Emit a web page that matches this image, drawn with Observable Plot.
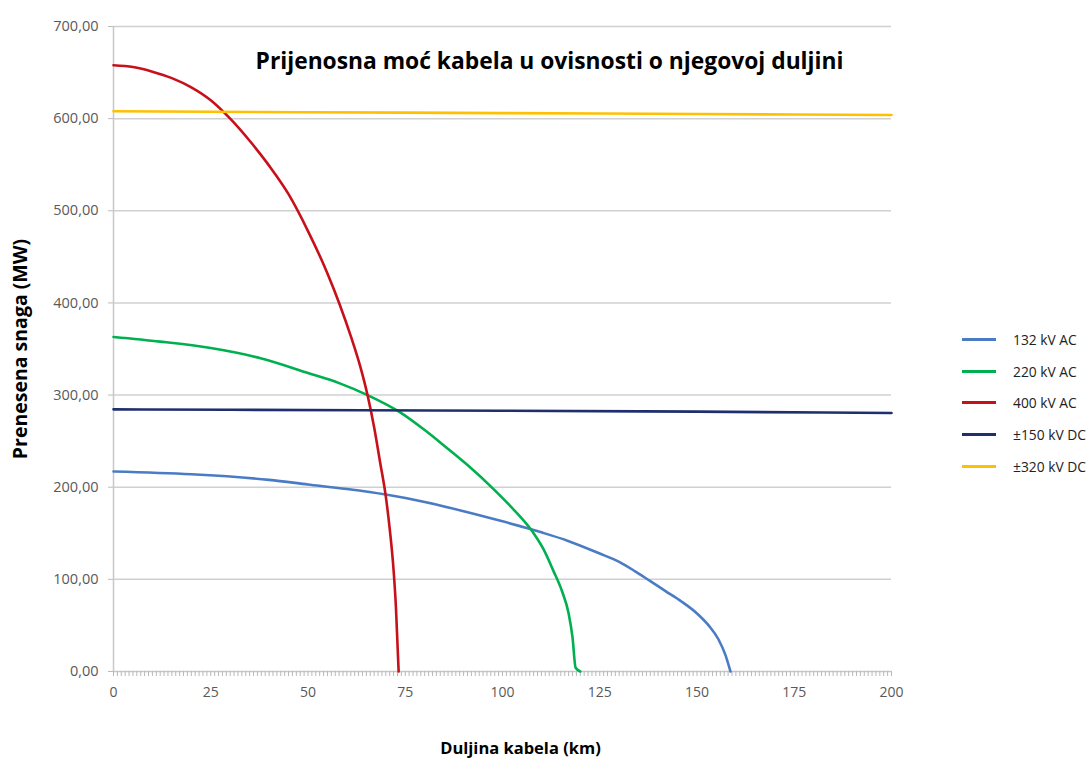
<!DOCTYPE html>
<html>
<head>
<meta charset="utf-8">
<script src="https://cdn.jsdelivr.net/npm/d3@7"></script>
<script src="https://cdn.jsdelivr.net/npm/@observablehq/plot@0.6"></script>
<style>
  body { margin: 0; background: #fff; font-family: "Open Sans", sans-serif; }
  #wrap { position: relative; width: 1088px; height: 759px; }
  #title { position: absolute; left: 0; width: 1099px; top: 45px; text-align: center; font-weight: bold; font-size: 22.8px; color: #000; }
  #legend { position: absolute; left: 962px; top: 324px; font-size: 13.8px; color: #222; }
  .item { display: flex; align-items: center; height: 31.6px; }
  .sw { width: 34px; height: 3px; margin-right: 17px; }
</style>
</head>
<body>
<div id="wrap">
  <div id="chart"></div>
  <div id="title">Prijenosna moć kabela u ovisnosti o njegovoj duljini</div>
  <div id="legend"></div>
</div>
<script>
const seriesNames = ["132 kV AC", "220 kV AC", "400 kV AC", "±150 kV DC", "±320 kV DC"];
const seriesColors = ["#4a7cc6", "#00b050", "#c8101a", "#1f2f6e", "#ffc000"];

const km132 = [0, 20, 40, 50, 60, 70, 80, 90, 100, 106, 110, 116.7, 125, 130, 134, 138, 142, 146, 150, 153, 155.5, 157.3, 158.6];
const mw132 = [217, 214, 208, 203, 198, 192, 184, 174, 163, 156, 151, 142, 128, 119, 109, 98, 87, 76, 63, 50, 35, 18, 0];

const km220 = [0, 12, 25, 37.8, 50, 58, 65.3, 73.8, 80, 85, 91, 97.7, 102.8, 108, 110.5, 113, 115.4, 117, 118, 118.8, 120];
const mw220 = [363, 358, 351, 340, 324, 313, 300, 281, 262, 245, 224, 198, 176, 150, 133, 110, 86, 63, 37, 4, 0];

const km400 = [0, 5, 10, 15, 20, 25, 30, 35, 40, 45, 50, 55, 58, 61, 63.5, 65.3, 67, 68.5, 70, 71, 72, 72.6, 73, 73.3];
const mw400 = [658, 656, 651, 644, 634, 620, 600, 576, 549, 518, 478, 432, 400, 364, 330, 300, 265, 228, 190, 155, 110, 70, 30, 0];

const km150 = [0, 30, 100, 150, 200];
const mw150 = [284.5, 284, 283, 282, 280.5];

const km320 = [0, 50, 100, 150, 200];
const mw320 = [608, 607, 606, 605, 604];

const yTicks = [0, 100, 200, 300, 400, 500, 600, 700];
const xTicks = [0, 25, 50, 75, 100, 125, 150, 175, 200];

const kms = [km132, km220, km400, km150, km320];
const mws = [mw132, mw220, mw400, mw150, mw320];
const data = seriesNames.flatMap((s, i) => kms[i].map((k, j) => ({series: s, km: k, mw: mws[i][j]})));

const fmt = d => d.toFixed(2).replace(".", ",");

const chart = Plot.plot({
  width: 1088,
  height: 759,
  marginLeft: 113,
  marginRight: 197,
  marginTop: 26,
  marginBottom: 88,
  style: {fontFamily: "'Open Sans', sans-serif", background: "#fff"},
  x: {domain: [0, 200]},
  y: {domain: [0, 700]},
  color: {domain: seriesNames, range: seriesColors},
  marks: [
    Plot.gridY(yTicks.filter(d => d > 0), {stroke: "#d0d0d0", strokeOpacity: 1, strokeWidth: 1.5}),
    Plot.ruleX([0], {stroke: "#c8c8c8", strokeWidth: 1.5}),
    Plot.ruleY([0], {stroke: "#c8c8c8", strokeWidth: 1.5}),
    Plot.axisY({ticks: yTicks, tickFormat: fmt, tickSize: 5, tickPadding: 10, stroke: "#bbb", fill: "#595959", fontSize: 14.5,
      label: "Prenesena snaga (MW)", labelAnchor: "center", labelArrow: "none", labelOffset: 100}),
    Plot.axisX({ticks: d3.range(0, 201, 1), tickSize: 5, text: null, stroke: "#b8b8b8", label: null}),
    Plot.axisX({ticks: xTicks, tickSize: 0, tickPadding: 16, fill: "#595959", fontSize: 14,
      label: "Duljina kabela (km)", labelAnchor: "center", labelArrow: "none", labelOffset: 82}),
    Plot.line(data, {x: "km", y: "mw", z: "series", stroke: "series", strokeWidth: 2.6, curve: "monotone-x"})
  ]
});
document.getElementById("chart").appendChild(chart);

chart.querySelectorAll("g[aria-label='y-axis label'] text").forEach(t => {
  t.style.fontWeight = "bold"; t.style.fontSize = "19.5px"; t.style.fill = "#000";
});
chart.querySelectorAll("g[aria-label='x-axis label'] text").forEach(t => {
  t.style.fontWeight = "bold"; t.style.fontSize = "16.5px"; t.style.fill = "#000";
  t.setAttribute("dx", 18);
});

const legend = document.getElementById("legend");
seriesNames.forEach((s, i) => {
  const it = document.createElement("div");
  it.className = "item";
  it.innerHTML = `<div class="sw" style="background:${seriesColors[i]}"></div><span>${s}</span>`;
  legend.appendChild(it);
});
</script>
</body>
</html>
